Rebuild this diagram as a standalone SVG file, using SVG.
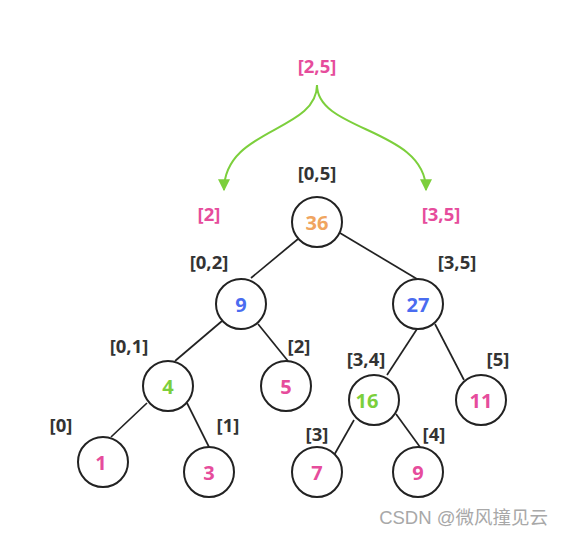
<svg xmlns="http://www.w3.org/2000/svg" width="563" height="536" viewBox="0 0 563 536">
<defs>
<marker id="ah" viewBox="0 0 10 10" refX="9" refY="5" markerWidth="13" markerHeight="12" markerUnits="userSpaceOnUse" orient="auto">
<path d="M0,0 L10,5 L0,10 z" fill="#7ccf3c"/>
</marker>
<style>
.n circle{fill:#fff;stroke:#222;stroke-width:2}
.v{font-family:"Open Sans","Noto Sans",sans-serif;font-weight:bold;font-size:20px;text-anchor:middle;dominant-baseline:central}
.l{font-family:"Open Sans","Noto Sans",sans-serif;font-weight:bold;font-size:18.5px;text-anchor:middle;dominant-baseline:central;fill:#333}
.pk{fill:#e64c9c}.bl{fill:#4a6cf0}.gr{fill:#7ccf3c}.or{fill:#f0a560}
.e line{stroke:#222;stroke-width:1.7}
.a path{stroke:#7ccf3c;stroke-width:2;fill:none}
</style>
</defs>
<rect width="563" height="536" fill="#fff"/>
<g id="arrows" class="a">
<path d="M317,85 C317,132 224,128 224,190" marker-end="url(#ah)"/>
<path d="M317,85 C317,132 426,128 426,190" marker-end="url(#ah)"/>
</g>
<g id="connectors" class="e">
<line x1="298" y1="239" x2="251" y2="278"/>
<line x1="340" y1="233" x2="417" y2="279"/>
<line x1="222" y1="321" x2="175" y2="361"/>
<line x1="258" y1="324" x2="288" y2="361"/>
<line x1="147" y1="403" x2="111" y2="437"/>
<line x1="187" y1="403" x2="209" y2="447"/>
<line x1="417" y1="329" x2="387" y2="375"/>
<line x1="435" y1="324" x2="464" y2="380"/>
<line x1="354" y1="420" x2="333" y2="457"/>
<line x1="396" y1="414" x2="420" y2="447"/>
</g>
<g id="n36" class="n"><circle cx="317" cy="222" r="25"/><text class="v or" x="317" y="222">36</text></g>
<g id="n9a" class="n"><circle cx="241" cy="304" r="25"/><text class="v bl" x="241" y="304">9</text></g>
<g id="n27" class="n"><circle cx="418" cy="304" r="25"/><text class="v bl" x="418" y="304">27</text></g>
<g id="n4" class="n"><circle cx="168" cy="386" r="25"/><text class="v gr" x="168" y="386">4</text></g>
<g id="n5" class="n"><circle cx="286" cy="386" r="25"/><text class="v pk" x="286" y="386">5</text></g>
<g id="n16" class="n"><circle cx="374" cy="400" r="25"/><text class="v gr" x="367" y="400">16</text></g>
<g id="n11" class="n"><circle cx="481" cy="400" r="25"/><text class="v pk" x="481" y="400">11</text></g>
<g id="n1" class="n"><circle cx="103" cy="462" r="25"/><text class="v pk" x="101" y="462">1</text></g>
<g id="n3" class="n"><circle cx="209" cy="472" r="25"/><text class="v pk" x="209" y="472">3</text></g>
<g id="n7" class="n"><circle cx="317" cy="472" r="25"/><text class="v pk" x="317" y="472">7</text></g>
<g id="n9b" class="n"><circle cx="418" cy="472" r="25"/><text class="v pk" x="418" y="472">9</text></g>
<g id="labels">
<text class="l pk" x="317" y="65">[2,5]</text>
<text class="l pk" x="209" y="213">[2]</text>
<text class="l pk" x="441" y="213">[3,5]</text>
<text class="l" x="317" y="172">[0,5]</text>
<text class="l" x="209" y="261">[0,2]</text>
<text class="l" x="457" y="261">[3,5]</text>
<text class="l" x="129" y="345">[0,1]</text>
<text class="l" x="299" y="345">[2]</text>
<text class="l" x="366" y="358">[3,4]</text>
<text class="l" x="498" y="358">[5]</text>
<text class="l" x="61" y="424">[0]</text>
<text class="l" x="228" y="424">[1]</text>
<text class="l" x="317" y="433">[3]</text>
<text class="l" x="434" y="433">[4]</text>
</g>
<text x="548" y="524" text-anchor="end" font-family="'Liberation Sans','Noto Sans CJK SC',sans-serif" font-size="18.5" fill="#a8a8a8">CSDN @微风撞见云</text>
</svg>
